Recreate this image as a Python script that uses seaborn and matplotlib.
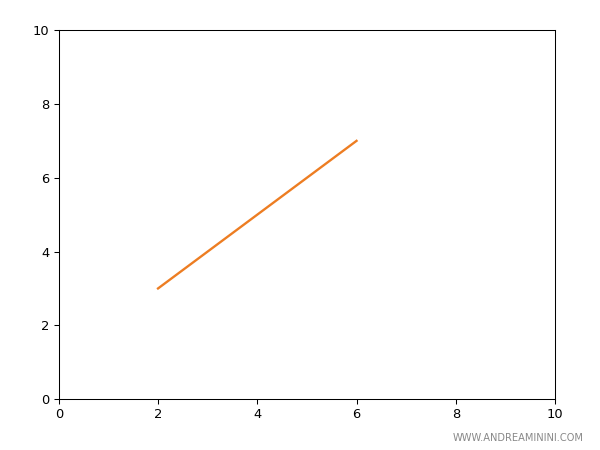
import matplotlib
matplotlib.use("Agg")
import matplotlib.pyplot as plt
import seaborn as sns
import pandas as pd

x_values = [2, 6]
y_values = [3, 7]
ticks = [0, 2, 4, 6, 8, 10]

df = pd.DataFrame({"x": x_values, "y": y_values})

fig, ax = plt.subplots(figsize=(6.4, 4.8), dpi=93.75)
fig.subplots_adjust(left=0.098, right=0.925, top=0.933, bottom=0.113)
sns.lineplot(data=df, x="x", y="y", ax=ax, color="#ed7d22", linewidth=1.8)
ax.set_xlim(0, 10)
ax.set_ylim(0, 10)
ax.set_xticks(ticks)
ax.set_yticks(ticks)
ax.set_xlabel("")
ax.set_ylabel("")
fig.text(0.972, 0.016, "WWW.ANDREAMININI.COM", ha="right", va="bottom",
         fontsize=7.6, color="#888888")
fig.savefig("out.png", dpi=93.75)
